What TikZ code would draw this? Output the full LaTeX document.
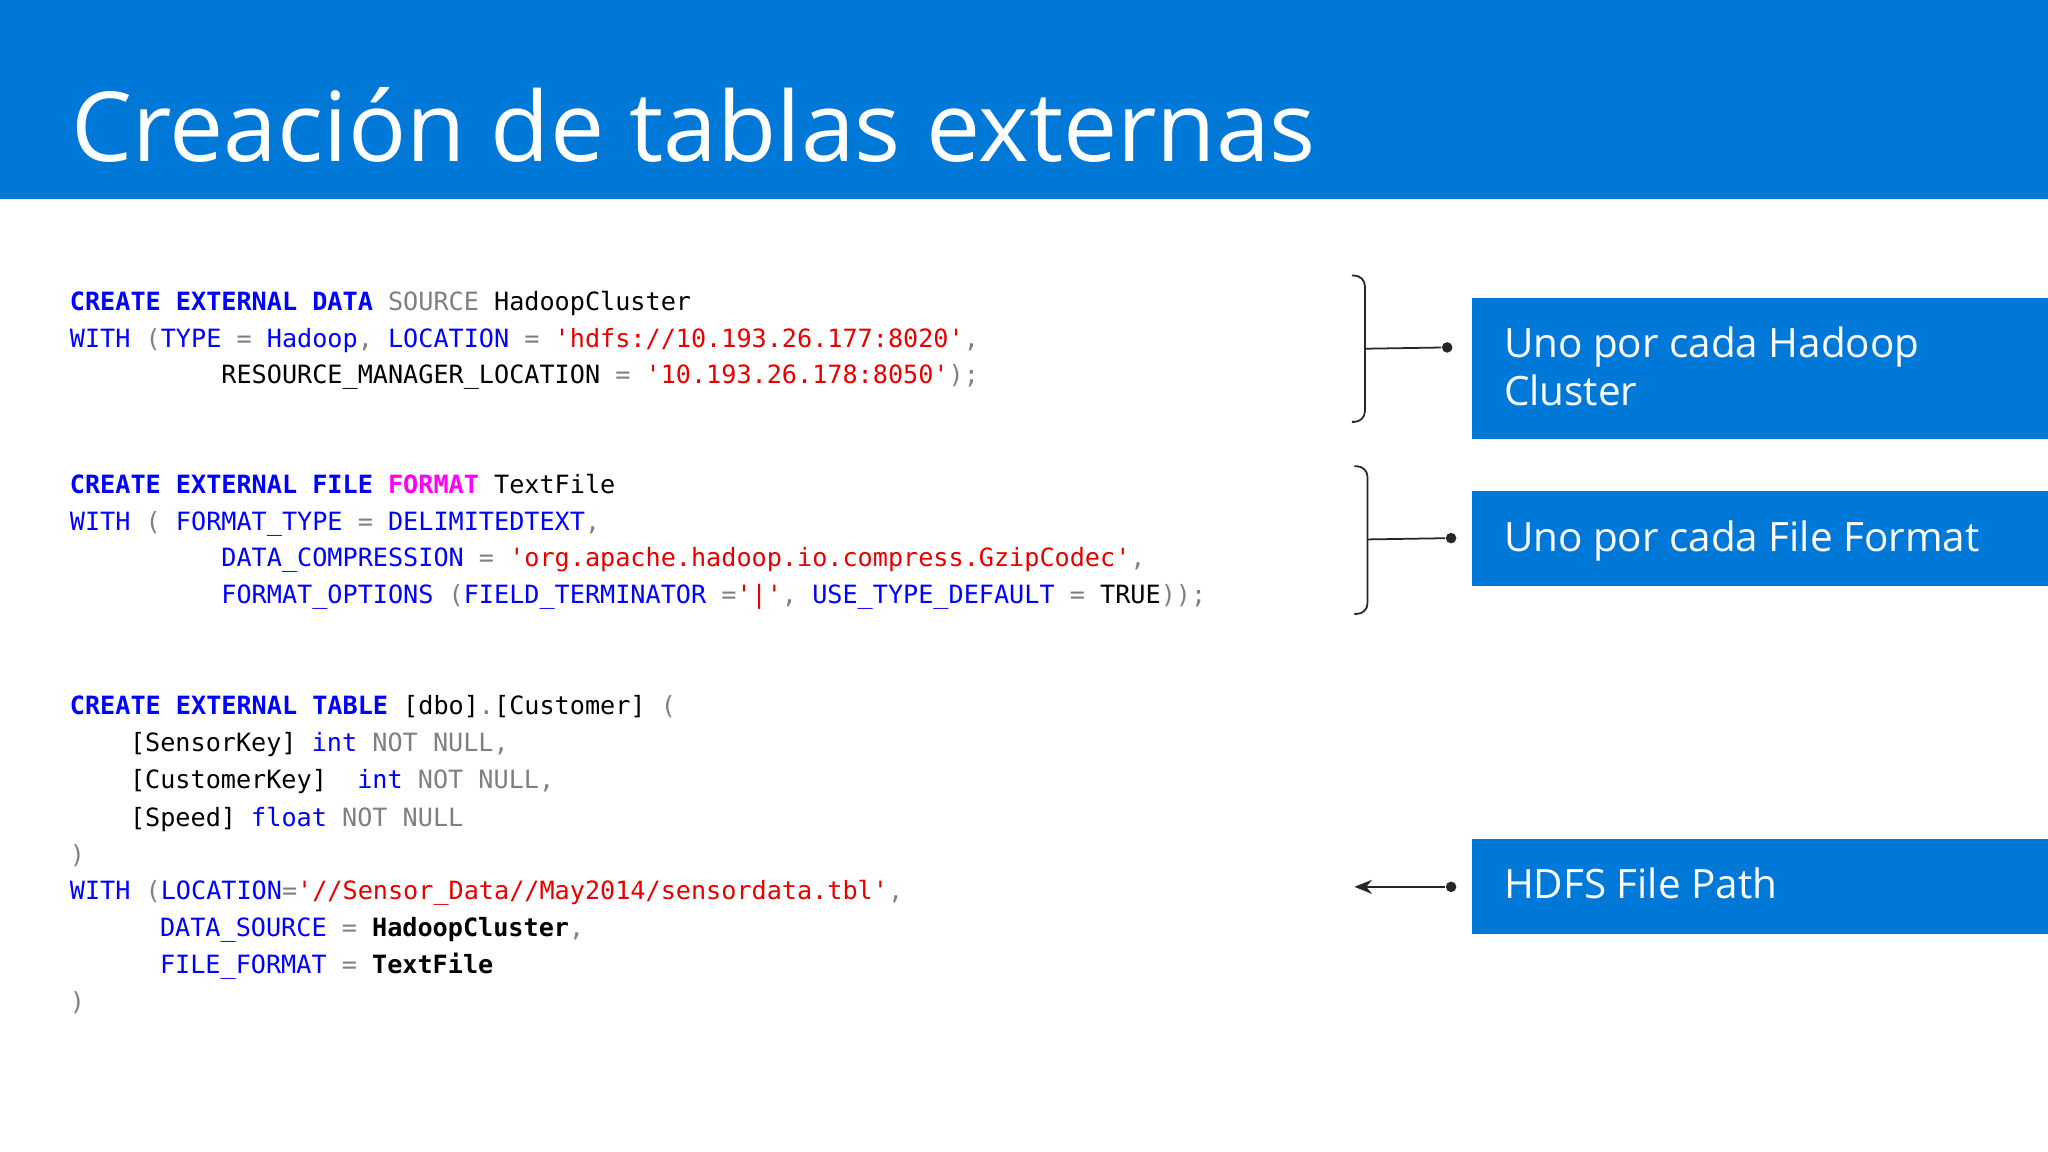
\documentclass[tikz,border=0pt]{standalone}
\usepackage{fontspec}
\setmainfont{Open Sans}
\setmonofont{DejaVu Sans Mono}
\usetikzlibrary{arrows.meta}
\definecolor{msblue}{RGB}{0,120,215}
\definecolor{kwb}{RGB}{0,0,255}
\definecolor{strr}{RGB}{230,0,0}
\definecolor{grc}{RGB}{128,128,128}
\definecolor{mgc}{RGB}{255,0,255}
\newcommand\cK[1]{\textcolor{kwb}{\bfseries #1}}
\newcommand\cB[1]{\textcolor{kwb}{#1}}
\newcommand\cS[1]{\textcolor{strr}{#1}}
\newcommand\cG[1]{\textcolor{grc}{#1}}
\newcommand\cM[1]{\textcolor{mgc}{\bfseries #1}}
\begin{document}
\begin{tikzpicture}[x=0.013061cm,y=-0.013061cm,
  code/.style={anchor=base west,inner sep=0,font=\ttfamily\fontsize{7.16}{8}\selectfont},
  bluebox/.style={fill=msblue,text=white,anchor=north west,inner sep=0,font=\fontsize{11.5}{13.6}\selectfont},
  brk/.style={line width=0.5pt,black!85},
  dot/.style={circle,fill=black!85,inner sep=0,minimum size=3pt}]
\useasboundingbox (0,0) rectangle (1568,882);
\fill[msblue] (0,0) rectangle (1568,152);
\node[anchor=base west,inner sep=0,text=white,font=\fontsize{27.5}{32}\selectfont] (title) at (54,124) {Creación de tablas externas};
% code block 1
\node[code] (l1) at (53,238) {\cK{CREATE EXTERNAL DATA} \cG{SOURCE} HadoopCluster};
\node[code] (l2) at (53,266) {\cB{WITH} \cG{(}\cB{TYPE} \cG{=} \cB{Hadoop}\cG{,} \cB{LOCATION} \cG{=} \cS{'hdfs://10.193.26.177:8020'}\cG{,}};
\node[code] (l3) at (169,294) {RESOURCE\_MANAGER\_LOCATION \cG{=} \cS{'10.193.26.178:8050'}\cG{);}};
% code block 2
\node[code] (m1) at (53,378) {\cK{CREATE EXTERNAL FILE} \cM{FORMAT} TextFile};
\node[code] (m2) at (53,406) {\cB{WITH} \cG{(} \cB{FORMAT\_TYPE} \cG{=} \cB{DELIMITEDTEXT}\cG{,}};
\node[code] (m3) at (169,434) {\cB{DATA\_COMPRESSION} \cG{=} \cS{'org.apache.hadoop.io.compress.GzipCodec'}\cG{,}};
\node[code] (m4) at (169,462) {\cB{FORMAT\_OPTIONS} \cG{(}\cB{FIELD\_TERMINATOR} \cG{=}\cS{'|'}\cG{,} \cB{USE\_TYPE\_DEFAULT} \cG{=} TRUE\cG{));}};
% code block 3
\node[code] (n1) at (53,547) {\cK{CREATE EXTERNAL TABLE} [dbo]\cG{.}[Customer] \cG{(}};
\node[code] (n2) at (99,575) {[SensorKey] \cB{int} \cG{NOT NULL,}};
\node[code] (n3) at (99,604) {[CustomerKey]\hspace{0.602em} \cB{int} \cG{NOT NULL,}};
\node[code] (n4) at (99,633) {[Speed] \cB{float} \cG{NOT NULL}};
\node[code] (n5) at (53,661) {\cG{)}};
\node[code] (n6) at (53,689) {\cB{WITH} \cG{(}\cB{LOCATION}\cG{=}\cS{'//Sensor\_Data//May2014/sensordata.tbl'}\cG{,}};
\node[code] (n7) at (122,717) {\cB{DATA\_SOURCE} \cG{=} \textbf{HadoopCluster}\cG{,}};
\node[code] (n8) at (122,745) {\cB{FILE\_FORMAT} \cG{=} \textbf{TextFile}};
\node[code] (n9) at (53,774) {\cG{)}};
% blue boxes
\fill[msblue] (1127,228) rectangle (1568,336);
\node[bluebox,align=left] (b1) at (1151,250) {Uno por cada Hadoop\\Cluster};
\fill[msblue] (1127,376) rectangle (1568,449);
\node[bluebox] (b2) at (1151,398) {Uno por cada File Format};
\fill[msblue] (1127,642) rectangle (1568,715);
\node[bluebox] (b3) at (1151,664) {HDFS File Path};
% brackets
\draw[brk,rounded corners=3pt] (1035,211) -- (1045,211) -- (1045,323) -- (1035,323);
\node[dot] (d1) at (1108,266) {};
\coordinate (c1) at (1045,267);
\draw[brk] (c1) -- (d1);
\draw[brk,rounded corners=3pt] (1037,357) -- (1047,357) -- (1047,470) -- (1037,470);
\node[dot] (d2) at (1111,412) {};
\coordinate (c2) at (1047,413);
\draw[brk] (c2) -- (d2);
\node[dot] (d3) at (1111,679) {};
\coordinate (c3) at (1037,679);
\draw[brk,-{Stealth[length=5pt,width=4pt]}] (d3) -- (c3);
\end{tikzpicture}
\end{document}
